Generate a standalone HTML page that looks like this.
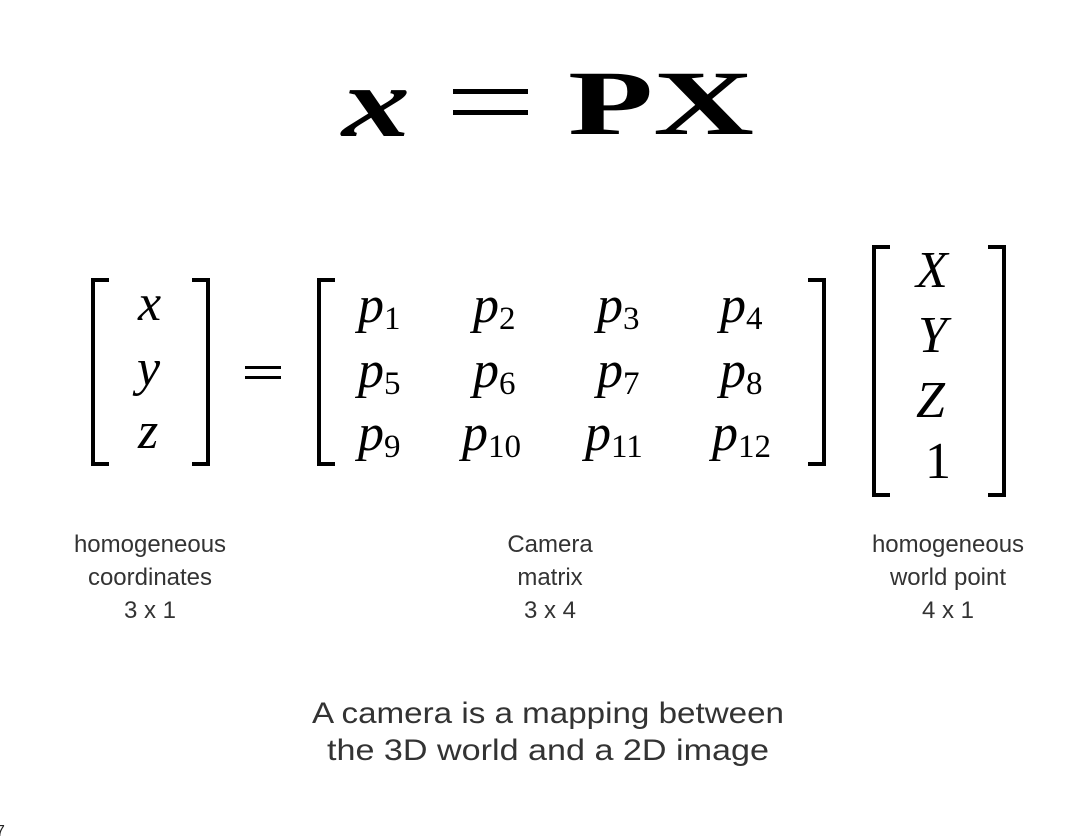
<!DOCTYPE html>
<html><head><meta charset="utf-8"><style>
html,body{margin:0;padding:0;background:#fff;width:1079px;height:836px;overflow:hidden}
svg{display:block}
.m{font-family:"Liberation Serif",serif;font-style:italic;font-size:52px;fill:#000}
.s{font-family:"Liberation Serif",serif;font-style:normal;font-size:33px;fill:#000}
.r{font-family:"Liberation Serif",serif;font-size:52px;fill:#000}
.t{font-family:"Liberation Sans",sans-serif;font-size:24px;fill:#333;text-anchor:middle}
.b{font-family:"Liberation Sans",sans-serif;font-size:30px;fill:#333;text-anchor:middle}
</style></head><body>
<svg width="1079" height="836" viewBox="0 0 1079 836">
<text x="342" y="136" font-family="Liberation Serif,serif" font-style="italic" font-weight="bold" font-size="100" textLength="68" lengthAdjust="spacingAndGlyphs">x</text>
<rect x="453" y="89" width="75" height="5" fill="#000"/>
<rect x="453" y="110" width="75" height="5" fill="#000"/>
<text x="568" y="134" font-family="Liberation Serif,serif" font-weight="bold" font-size="92" textLength="186" lengthAdjust="spacingAndGlyphs">PX</text>

<g fill="none" stroke="#000" stroke-width="4">
<path d="M109,280 H93 V464 H109"/>
<path d="M192,280 H208 V464 H192"/>
<path d="M335,280 H319 V464 H335"/>
<path d="M808,280 H824 V464 H808"/>
<path d="M890,247 H874 V495 H890"/>
<path d="M988,247 H1004 V495 H988"/>
</g>
<text class="m" x="138" y="320">x</text>
<text class="m" x="137" y="385">y</text>
<text class="m" x="138" y="448">z</text>
<rect x="245" y="366" width="36" height="3" fill="#000"/>
<rect x="245" y="376" width="36" height="3" fill="#000"/>

<text class="m" x="358" y="322">p<tspan class="s" dy="7">1</tspan></text>
<text class="m" x="473" y="322">p<tspan class="s" dy="7">2</tspan></text>
<text class="m" x="597" y="322">p<tspan class="s" dy="7">3</tspan></text>
<text class="m" x="720" y="322">p<tspan class="s" dy="7">4</tspan></text>
<text class="m" x="358" y="387">p<tspan class="s" dy="7">5</tspan></text>
<text class="m" x="473" y="387">p<tspan class="s" dy="7">6</tspan></text>
<text class="m" x="597" y="387">p<tspan class="s" dy="7">7</tspan></text>
<text class="m" x="720" y="387">p<tspan class="s" dy="7">8</tspan></text>
<text class="m" x="358" y="450">p<tspan class="s" dy="7">9</tspan></text>
<text class="m" x="462" y="450">p<tspan class="s" dy="7">10</tspan></text>
<text class="m" x="585" y="450">p<tspan class="s" dy="7">11</tspan></text>
<text class="m" x="712" y="450">p<tspan class="s" dy="7">12</tspan></text>

<text class="m" x="916" y="287">X</text>
<text class="m" x="918" y="352">Y</text>
<text class="m" x="916" y="417">Z</text>
<text class="r" x="925" y="478">1</text>

<text class="t" x="150" y="552">homogeneous</text>
<text class="t" x="150" y="585">coordinates</text>
<text class="t" x="150" y="618">3 x 1</text>
<text class="t" x="550" y="552">Camera</text>
<text class="t" x="550" y="585">matrix</text>
<text class="t" x="550" y="618">3 x 4</text>
<text class="t" x="948" y="552">homogeneous</text>
<text class="t" x="948" y="585">world point</text>
<text class="t" x="948" y="618">4 x 1</text>

<text class="b" x="548" y="723" textLength="472" lengthAdjust="spacingAndGlyphs">A camera is a mapping between</text>
<text class="b" x="548" y="760" textLength="442" lengthAdjust="spacingAndGlyphs">the 3D world and a 2D image</text>
<text x="-4" y="836" font-family="Liberation Sans,sans-serif" font-size="16" fill="#222">7</text>
</svg>
</body></html>
